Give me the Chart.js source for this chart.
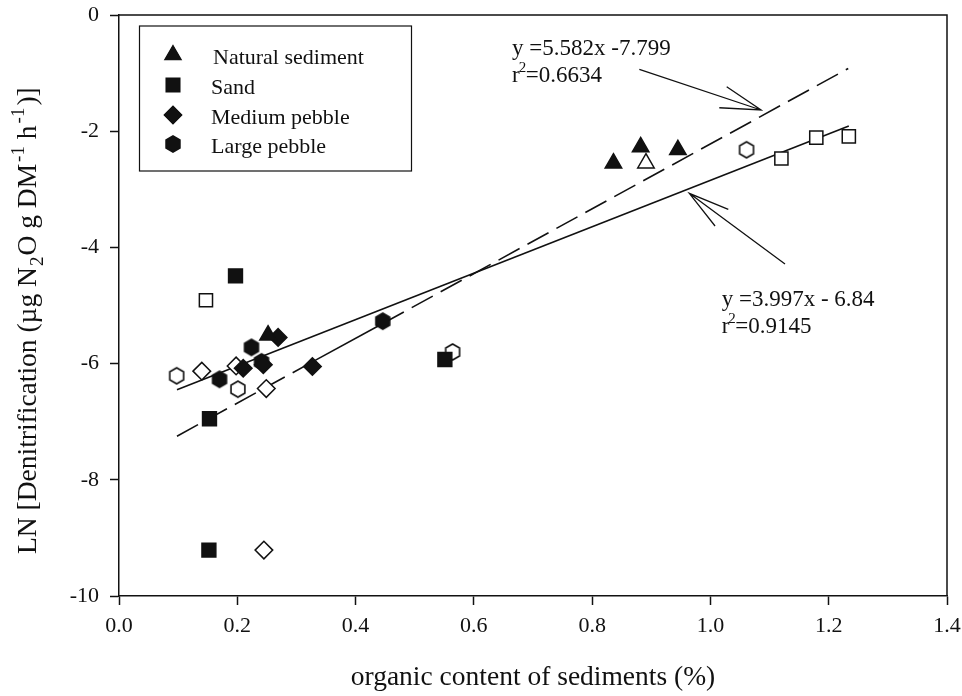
<!DOCTYPE html>
<html>
<head>
<meta charset="utf-8">
<script src="https://cdn.jsdelivr.net/npm/chart.js@4.4.1/dist/chart.umd.min.js"></script>
<style>
html, body { margin: 0; padding: 0; background: #fff; }
</style>
</head>
<body>
<canvas id="denitrification_data" width="962" height="696"></canvas>
<script>
// values (filled and open symbols)
var naturalFilledX = [0.252, 0.836, 0.882, 0.945];
var naturalFilledY = [-5.51, -2.55, -2.27, -2.32];
var naturalOpenX = [0.891];
var naturalOpenY = [-2.55];

var sandFilledX = [0.197, 0.153, 0.152, 0.551];
var sandFilledY = [-4.49, -6.95, -9.21, -5.93];
var sandOpenX = [0.147, 1.120, 1.179, 1.234];
var sandOpenY = [-4.91, -2.47, -2.11, -2.09];

var mediumFilledX = [0.269, 0.244, 0.210, 0.327];
var mediumFilledY = [-5.55, -6.02, -6.08, -6.05];
var mediumOpenX = [0.140, 0.198, 0.249, 0.245];
var mediumOpenY = [-6.13, -6.04, -6.43, -9.21];

var largeFilledX = [0.224, 0.241, 0.170, 0.446];
var largeFilledY = [-5.72, -5.97, -6.27, -5.27];
var largeOpenX = [0.0975, 0.201, 0.564, 1.061];
var largeOpenY = [-6.21, -6.44, -5.80, -2.32];

// regression lines
var fitSolidX = [0.098, 1.234];
var fitSolidY = [-6.45, -1.91];
var fitDashX = [0.098, 0.327, 0.446, 1.233];
var fitDashY = [-7.25, -5.97, -5.31, -0.92];

var legendLabels = ['Natural sediment', 'Sand', 'Medium pebble', 'Large pebble'];
var eqDash = ['y =5.582x -7.799', '=0.6634'];
var eqSolid = ['y =3.997x - 6.84', '=0.9145'];

var serif = '"Liberation Serif", "Times New Roman", serif';
var ink = '#111';

function pts(xs, ys) {
    return xs.map(function(v, i) { return {x: v, y: ys[i]}; });
}

function hexagon(filled) {
    var c = document.createElement('canvas');
    c.width = 20; c.height = 20;
    var g = c.getContext('2d');
    g.beginPath();
    for (var i = 0; i < 6; i++) {
        var a = -Math.PI / 2 + i * Math.PI / 3;
        var hx = 10 + 8 * Math.cos(a), hy = 10 + 8 * Math.sin(a);
        if (i) g.lineTo(hx, hy); else g.moveTo(hx, hy);
    }
    g.closePath();
    g.fillStyle = filled ? ink : '#fff';
    g.fill();
    g.lineWidth = 1.6;
    g.strokeStyle = ink;
    g.stroke();
    return c;
}
var hexFilled = hexagon(true);
var hexOpen = hexagon(false);

function markerSet(label, xs, ys, style, radius, filled) {
    return {
        label: label,
        data: pts(xs, ys),
        pointStyle: style,
        pointRadius: radius,
        pointHoverRadius: radius,
        pointBackgroundColor: filled ? ink : '#fff',
        pointBorderColor: ink,
        pointBorderWidth: 1.5,
        showLine: false,
        order: 0
    };
}

var styles = [
    {style: 'triangle', radius: 9.5},
    {style: 'rect', radius: 9.8},
    {style: 'rectRot', radius: 8.8},
    {style: hexFilled, radius: 9}
];

const dt = {
    datasets: [
        markerSet('Natural sediment', naturalFilledX, naturalFilledY, 'triangle', 9.5, true),
        markerSet('Natural sediment (open)', naturalOpenX, naturalOpenY, 'triangle', 9.5, false),
        markerSet('Sand', sandFilledX, sandFilledY, 'rect', 9.8, true),
        markerSet('Sand (open)', sandOpenX, sandOpenY, 'rect', 9.3, false),
        markerSet('Medium pebble', mediumFilledX, mediumFilledY, 'rectRot', 8.8, true),
        markerSet('Medium pebble (open)', mediumOpenX, mediumOpenY, 'rectRot', 8.8, false),
        markerSet('Large pebble', largeFilledX, largeFilledY, hexFilled, 9, true),
        markerSet('Large pebble (open)', largeOpenX, largeOpenY, hexOpen, 9, false),
        {
            label: 'fit solid',
            data: pts(fitSolidX, fitSolidY),
            showLine: true,
            borderColor: ink,
            borderWidth: 1.6,
            pointRadius: 0,
            order: 1
        },
        {
            label: 'fit dashed',
            data: pts(fitDashX, fitDashY),
            showLine: true,
            borderColor: ink,
            borderWidth: 1.6,
            borderDash: [24, 9],
            segment: {
                borderDash: function(c) { return c.p0DataIndex === 1 ? [] : [24, 9]; }
            },
            pointRadius: 0,
            order: 1
        }
    ]
};

// frame, legend box, equations, arrows, y title
const annotations = {
    id: 'annotations',
    afterDraw: function(chart) {
        var ctx = chart.ctx, a = chart.chartArea;
        var xs = chart.scales.x, ys = chart.scales.y;
        function X(v) { return xs.getPixelForValue(v); }
        function Y(v) { return ys.getPixelForValue(v); }

        ctx.save();
        ctx.strokeStyle = ink;
        ctx.fillStyle = ink;

        // top and right edges of the frame
        ctx.lineWidth = 1.5;
        ctx.beginPath();
        ctx.moveTo(a.left, a.top);
        ctx.lineTo(a.right, a.top);
        ctx.lineTo(a.right, a.bottom);
        ctx.stroke();

        // legend
        ctx.lineWidth = 1.2;
        ctx.strokeRect(139.5, 26, 272, 145);
        var rowY = [55, 85, 115, 144];
        ctx.font = '22px ' + serif;
        ctx.textAlign = 'left';
        ctx.textBaseline = 'alphabetic';
        legendLabels.forEach(function(lbl, i) {
            ctx.fillStyle = ink;
            Chart.helpers.drawPoint(ctx, {
                pointStyle: styles[i].style,
                radius: styles[i].radius,
                rotation: 0,
                borderWidth: 1.5
            }, 173, rowY[i]);
            ctx.fill();
            ctx.fillText(lbl, i === 0 ? 213 : 211, rowY[i] + 9);
        });

        // equations
        function equation(lines, x, y) {
            var px = X(x), py = Y(y);
            ctx.font = '23px ' + serif;
            ctx.fillText(lines[0], px, py);
            ctx.fillText('r', px, py + 27);
            var w = ctx.measureText('r').width;
            ctx.font = '15px ' + serif;
            ctx.fillText('2', px + w - 1, py + 17);
            ctx.font = '23px ' + serif;
            ctx.fillText(lines[1], px + w + 6, py + 27);
        }
        equation(eqDash, 0.6645, -0.69);
        equation(eqSolid, 1.019, -5.01);

        // arrows (open heads)
        ctx.lineWidth = 1.3;
        function arrow(tail, tip, arm1, arm2) {
            ctx.beginPath();
            ctx.moveTo(X(tail[0]), Y(tail[1]));
            ctx.lineTo(X(tip[0]), Y(tip[1]));
            ctx.moveTo(X(arm1[0]), Y(arm1[1]));
            ctx.lineTo(X(tip[0]), Y(tip[1]));
            ctx.lineTo(X(arm2[0]), Y(arm2[1]));
            ctx.stroke();
        }
        arrow([0.8798, -0.935], [1.0856, -1.635], [1.0275, -1.234], [1.015, -1.596]);
        arrow([1.1261, -4.286], [0.9643, -3.069], [1.0302, -3.344], [1.0078, -3.632]);

        // y axis title with sub / superscripts
        var parts = [
            {t: 'LN [Denitrification (\u00b5g N', s: 27.5, dy: 0, gap: 0},
            {t: '2', s: 19, dy: 7, gap: 1},
            {t: 'O g DM', s: 27.5, dy: 0, gap: 1},
            {t: '-1', s: 19, dy: -12, gap: 2},
            {t: ' h', s: 27.5, dy: 0, gap: 0},
            {t: '-1', s: 19, dy: -12, gap: 2},
            {t: ')]', s: 27.5, dy: 0, gap: 2}
        ];
        ctx.translate(36, 554);
        ctx.rotate(-Math.PI / 2);
        var cx = 0;
        parts.forEach(function(p) {
            cx += p.gap;
            ctx.font = p.s + 'px ' + serif;
            ctx.fillText(p.t, cx, p.dy);
            cx += ctx.measureText(p.t).width;
        });
        ctx.restore();
    }
};

const config_denitrification = {
    type: 'scatter',
    data: dt,
    options: {
        responsive: false,
        animation: false,
        layout: { padding: { top: 15, right: 15, left: 0, bottom: 0 } },
        plugins: { legend: { display: false }, tooltip: { enabled: false } },
        scales: {
            x: {
                type: 'linear',
                min: 0,
                max: 1.4,
                ticks: {
                    stepSize: 0.2,
                    padding: 8,
                    color: ink,
                    font: { family: serif, size: 22 },
                    callback: function(v) { return v.toFixed(1); }
                },
                grid: { drawOnChartArea: false, drawTicks: true, tickLength: 9, tickColor: ink, tickWidth: 1.5 },
                border: { display: true, color: ink, width: 1.5 },
                title: {
                    display: true,
                    text: 'organic content of sediments (%)',
                    color: ink,
                    font: { family: serif, size: 27.5 },
                    padding: { top: 0, bottom: 2 }
                },
                afterFit: function(s) {
                    s.height = 100;
                    s.paddingLeft = 0;
                    s.paddingRight = 0;
                }
            },
            y: {
                type: 'linear',
                min: -10,
                max: 0,
                ticks: {
                    stepSize: 2,
                    padding: 11,
                    color: ink,
                    font: { family: serif, size: 22 },
                    callback: function(v) { return String(v); }
                },
                grid: { drawOnChartArea: false, drawTicks: true, tickLength: 9, tickColor: ink, tickWidth: 1.5 },
                border: { display: true, color: ink, width: 1.5 },
                afterFit: function(s) {
                    s.width = 119;
                    s.paddingTop = 0;
                    s.paddingBottom = 0;
                }
            }
        }
    },
    plugins: [annotations]
};

const denitrification_chart = new Chart(
    document.getElementById('denitrification_data'),
    config_denitrification
);
</script>
</body>
</html>
